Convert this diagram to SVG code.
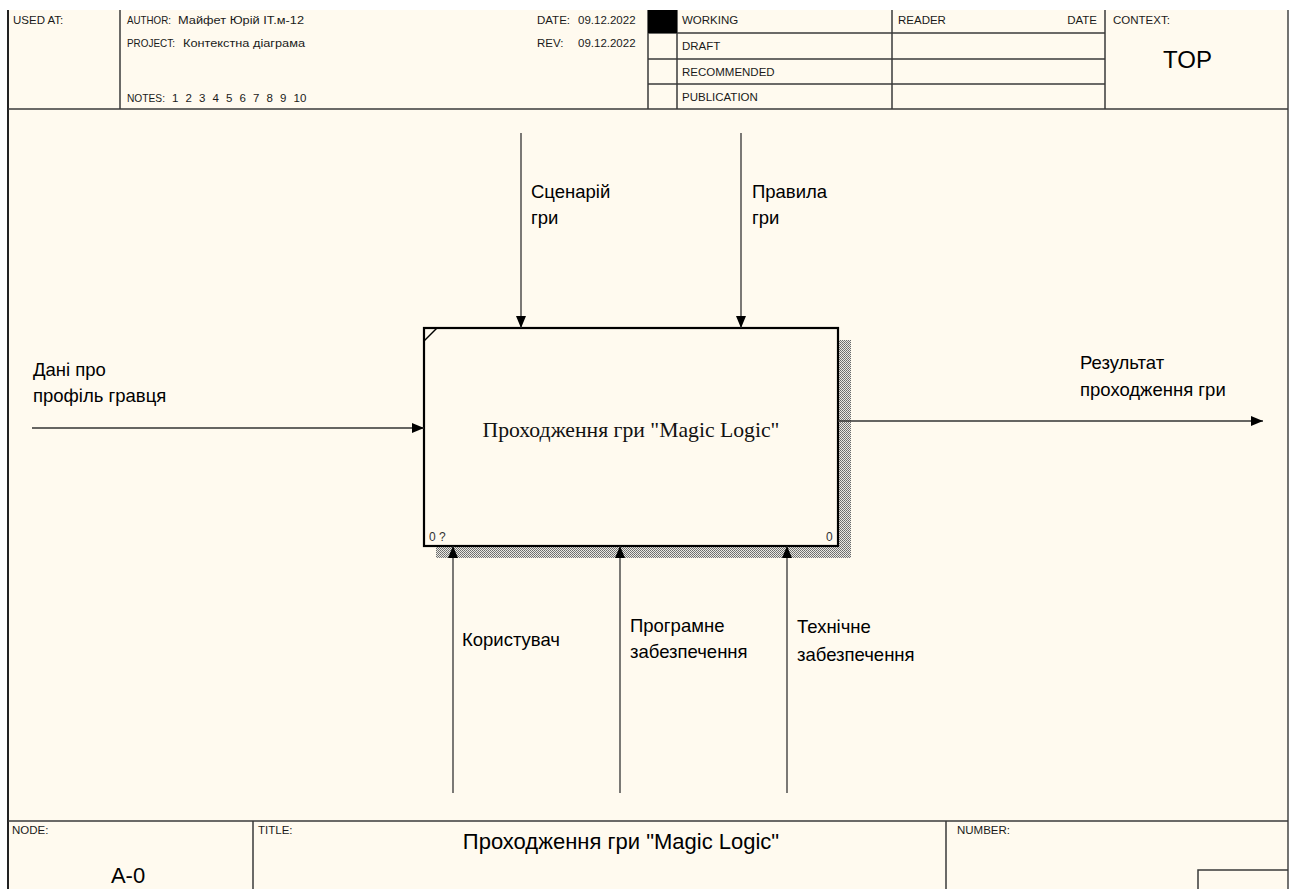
<svg xmlns="http://www.w3.org/2000/svg" width="1292" height="889" viewBox="0 0 1292 889">
<style>
.frame{fill:none;stroke:#3a3a3a;stroke-width:1.5}
.hdr{font-family:"Liberation Sans",Arial,sans-serif;font-size:11.5px;fill:#1a1a1a}
.lbl{font-family:"Liberation Sans",Arial,sans-serif;font-size:18.5px;fill:#000}
.big{font-family:"Liberation Sans",Arial,sans-serif;font-size:22px;fill:#000}
.con{stroke:#333;stroke-width:1.3;fill:none}
.box{fill:#fffaef;stroke:#000;stroke-width:2.2}
.num{font-family:"Liberation Sans",Arial,sans-serif;font-size:12px;fill:#333}
</style>
<defs>
<pattern id="hatch" width="2" height="2" patternUnits="userSpaceOnUse">
<rect width="2" height="2" fill="#ebe9e3"/>
<rect x="0" y="0" width="1" height="1" fill="#6a6a6a"/>
<rect x="1" y="1" width="1" height="1" fill="#7a7a7a"/>
</pattern>
<marker id="arr" viewBox="0 0 12 10" refX="12" refY="5" markerWidth="12" markerHeight="10" markerUnits="userSpaceOnUse" orient="auto">
<path d="M0,0 L12,5 L0,10 z" fill="#000"/>
</marker>
</defs>
<rect x="0" y="0" width="1292" height="889" fill="#ffffff"/>
<rect x="8" y="10" width="1280" height="879" fill="#fffaef"/>
<g id="frame">
<line x1="8" y1="10" x2="8" y2="889" stroke="#222" stroke-width="2"/>
<line x1="1288" y1="10" x2="1288" y2="889" stroke="#444" stroke-width="1.5"/>
<line x1="8" y1="109" x2="1288" y2="109" class="frame"/>
<line x1="120" y1="10" x2="120" y2="109" class="frame"/>
<line x1="648" y1="10" x2="648" y2="109" class="frame"/>
<line x1="677" y1="10" x2="677" y2="109" class="frame"/>
<line x1="892" y1="10" x2="892" y2="109" class="frame"/>
<line x1="1105" y1="10" x2="1105" y2="109" class="frame"/>
<line x1="648" y1="33" x2="1105" y2="33" class="frame"/>
<line x1="648" y1="59" x2="1105" y2="59" class="frame"/>
<line x1="648" y1="84" x2="1105" y2="84" class="frame"/>
<rect x="648" y="10" width="29" height="23" fill="#000"/>
<text x="13" y="24" class="hdr">USED AT:</text>
<text x="127" y="24" class="hdr" textLength="44" lengthAdjust="spacingAndGlyphs">AUTHOR:</text>
<text x="178" y="24" class="hdr" textLength="126" lengthAdjust="spacingAndGlyphs">Майфет Юрій IT.м-12</text>
<text x="127" y="47" class="hdr" textLength="48" lengthAdjust="spacingAndGlyphs">PROJECT:</text>
<text x="183" y="47" class="hdr" textLength="122" lengthAdjust="spacingAndGlyphs">Контекстна діаграма</text>
<text x="127" y="102" class="hdr" textLength="38" lengthAdjust="spacingAndGlyphs">NOTES:</text>
<text x="172" y="102" class="hdr"><tspan x="172">1</tspan><tspan x="185.5">2</tspan><tspan x="199">3</tspan><tspan x="212.5">4</tspan><tspan x="226">5</tspan><tspan x="239.5">6</tspan><tspan x="253">7</tspan><tspan x="266.5">8</tspan><tspan x="280">9</tspan><tspan x="293.5">10</tspan></text>
<text x="537" y="24" class="hdr">DATE:</text>
<text x="578" y="24" class="hdr">09.12.2022</text>
<text x="537" y="47" class="hdr">REV:</text>
<text x="578" y="47" class="hdr">09.12.2022</text>
<text x="682" y="24" class="hdr">WORKING</text>
<text x="682" y="50" class="hdr">DRAFT</text>
<text x="682" y="76" class="hdr">RECOMMENDED</text>
<text x="682" y="101" class="hdr">PUBLICATION</text>
<text x="898" y="24" class="hdr">READER</text>
<text x="1097" y="24" class="hdr" text-anchor="end">DATE</text>
<text x="1113" y="24" class="hdr">CONTEXT:</text>
<text x="1163" y="68" class="big" style="font-size:24px">TOP</text>
<line x1="8" y1="821" x2="1288" y2="821" class="frame"/>
<line x1="253" y1="821" x2="253" y2="889" class="frame"/>
<line x1="946" y1="821" x2="946" y2="889" class="frame"/>
<polyline points="1198,889 1198,870 1288,870" class="frame"/>
<text x="12" y="834" class="hdr">NODE:</text>
<text x="258" y="834" class="hdr">TITLE:</text>
<text x="957" y="834" class="hdr">NUMBER:</text>
<text x="621" y="849" class="big" text-anchor="middle">Проходження гри "Magic Logic"</text>
<text x="128" y="883" class="big" text-anchor="middle">A-0</text>
</g>
<g id="node-A0">
<rect x="838" y="340" width="13" height="218" fill="url(#hatch)"/>
<rect x="436" y="546" width="415" height="12" fill="url(#hatch)"/>
<rect x="424" y="328" width="414" height="218" class="box"/>
<line x1="424" y1="341" x2="437" y2="328" stroke="#000" stroke-width="1.5"/>
<text x="631" y="437" text-anchor="middle" style="font-family:'Liberation Serif','Times New Roman',serif;font-size:21.7px;fill:#111">Проходження гри "Magic Logic"</text>
<text x="429" y="541" class="num">0 ?</text>
<text x="826" y="541" class="num">0</text>
</g>
<g id="connectors">
<line x1="521" y1="133" x2="521" y2="328" class="con" marker-end="url(#arr)"/>
<line x1="741" y1="133" x2="741" y2="328" class="con" marker-end="url(#arr)"/>
<line x1="32" y1="428" x2="424" y2="428" class="con" marker-end="url(#arr)"/>
<line x1="838" y1="421" x2="1263" y2="421" class="con" marker-end="url(#arr)"/>
<line x1="453" y1="793" x2="453" y2="546" class="con" marker-end="url(#arr)"/>
<line x1="620" y1="793" x2="620" y2="546" class="con" marker-end="url(#arr)"/>
<line x1="787" y1="793" x2="787" y2="546" class="con" marker-end="url(#arr)"/>
</g>
<g id="labels">
<text x="531" y="198" class="lbl">Сценарій</text>
<text x="531" y="224" class="lbl">гри</text>
<text x="752" y="198" class="lbl">Правила</text>
<text x="752" y="224" class="lbl">гри</text>
<text x="33" y="376" class="lbl">Дані про</text>
<text x="33" y="402" class="lbl">профіль гравця</text>
<text x="1080" y="369" class="lbl">Результат</text>
<text x="1080" y="396" class="lbl">проходження гри</text>
<text x="462" y="646" class="lbl">Користувач</text>
<text x="630" y="632" class="lbl">Програмне</text>
<text x="630" y="658" class="lbl">забезпечення</text>
<text x="797" y="633" class="lbl">Технічне</text>
<text x="797" y="661" class="lbl">забезпечення</text>
</g>
</svg>
